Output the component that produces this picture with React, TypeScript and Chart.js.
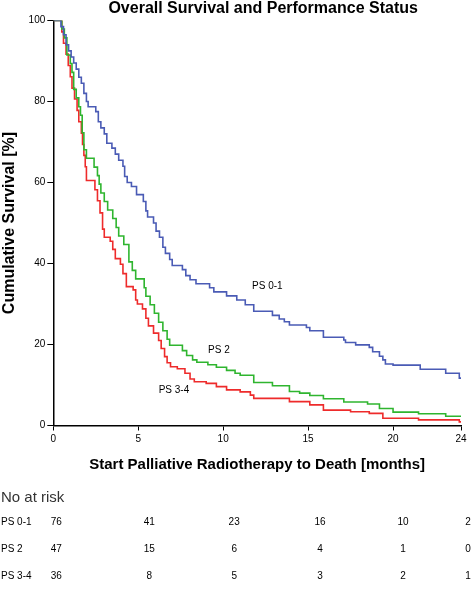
import React, { useEffect, useRef } from "react";
import { Chart, registerables } from "chart.js";
Chart.register(...registerables);

const xTicks = [0, 5, 10, 15, 20, 24];
const yTicks = [0, 20, 40, 60, 80, 100];

const ps01Time = [0, 0.45, 0.6, 0.75, 0.9, 1.05, 1.2, 1.35, 1.5, 1.65, 1.8, 1.95, 2.05, 2.5, 2.65, 2.8, 3.0, 3.15, 3.45, 3.65, 3.85, 4.1, 4.2, 4.35, 4.6, 4.9, 5.3, 5.45, 5.55, 5.9, 6.05, 6.25, 6.45, 6.6, 6.85, 7.0, 7.6, 7.8, 8.05, 8.4, 9.2, 9.45, 10.2, 10.8, 11.3, 11.8, 12.9, 13.3, 13.6, 13.9, 14.9, 15.1, 15.9, 17.1, 17.2, 17.8, 18.6, 18.8, 19.2, 19.4, 19.55, 20.0, 21.6, 23.1, 23.9, 24];
const ps01Surv = [100, 98.5, 96.5, 94, 92.5, 91, 89.5, 88, 86, 84.5, 82, 80, 78.7, 77.5, 75, 73.5, 72, 69.7, 68.5, 67, 65.5, 64, 61.5, 60, 59, 57, 55.3, 53, 51.5, 50, 48, 46.5, 44, 42.5, 41, 39.5, 38.5, 37, 36, 35, 34, 33, 32, 31, 29.8, 28.2, 27.2, 26.3, 25.6, 24.8, 24.2, 23.4, 21.8, 21.1, 20.5, 19.9, 19.3, 18.2, 17.1, 16.2, 15.2, 14.9, 13.9, 12.9, 11.7, 11.7];

const ps2Time = [0, 0.5, 0.65, 0.8, 1.0, 1.1, 1.2, 1.35, 1.5, 1.6, 1.7, 1.8, 1.95, 2.4, 2.6, 2.7, 2.8, 3.0, 3.2, 3.5, 3.7, 3.85, 4.15, 4.45, 4.65, 4.85, 5.35, 5.45, 5.7, 5.95, 6.2, 6.45, 6.7, 6.85, 7.6, 7.85, 8.2, 8.45, 9.1, 9.6, 10.2, 10.7, 11.0, 11.8, 12.9, 13.9, 14.5, 15.1, 15.9, 17.1, 18.5, 19.2, 20.0, 21.5, 23.1, 24];
const ps2Surv = [100, 97.9, 95.7, 91.5, 89.4, 87.2, 83, 80.9, 78.7, 76.6, 72.3, 68.1, 66, 63.8, 61.7, 59.6, 57.4, 55.3, 53.2, 51.1, 48.9, 46.8, 44.7, 40.4, 38.3, 36.2, 34, 31.9, 29.8, 27.7, 25.5, 23.4, 21.3, 19.8, 18.5, 17.3, 16.2, 15.6, 15.0, 14.4, 13.6, 12.9, 12.4, 10.6, 9.8, 8.4, 8.0, 7.4, 6.6, 5.8, 5.3, 4.2, 3.3, 2.9, 2.3, 2.3];

const ps34Time = [0, 0.5, 0.6, 0.75, 0.88, 1.0, 1.1, 1.25, 1.4, 1.5, 1.65, 1.72, 1.8, 1.88, 1.95, 2.45, 2.6, 2.75, 2.9, 3.0, 3.35, 3.5, 3.65, 3.95, 4.1, 4.3, 4.7, 4.85, 4.95, 5.25, 5.45, 5.6, 5.9, 6.2, 6.35, 6.55, 6.7, 6.9, 7.3, 7.75, 8.05, 8.3, 9.0, 9.6, 10.2, 11.0, 11.6, 11.8, 13.9, 15.1, 15.9, 17.5, 18.6, 19.4, 21.5, 23.9, 24];
const ps34Surv = [100, 97.2, 94.4, 91.7, 88.9, 86.1, 83.3, 80.6, 77.8, 75, 72.2, 69.4, 66.7, 63.9, 60.5, 58.2, 55.5, 52.5, 48.5, 46.5, 45.5, 43.5, 41.2, 39.8, 37.5, 34.3, 33.5, 31, 30, 28.8, 26.5, 24.6, 22.8, 21, 19, 17, 15.5, 14.5, 14, 12.9, 11.5, 10.8, 10.4, 9.6, 8.8, 8.3, 7.5, 6.7, 5.9, 5.1, 3.8, 3.4, 3.0, 1.8, 1.4, 0.9, 0.9];

const seriesNames = ["PS 0-1", "PS 2", "PS 3-4"];
const seriesColors = ["#4a5bb5", "#2fb52f", "#ee2b2b"];

const riskTimes = [0, 5, 10, 15, 20, 24];
const riskPS01 = [76, 41, 23, 16, 10, 2];
const riskPS2 = [47, 15, 6, 4, 1, 0];
const riskPS34 = [36, 8, 5, 3, 2, 1];

const labelTimes = [12.6, 9.75, 7.1];
const labelSurv = [34.4, 18.6, 8.7];

const FONT = "'Liberation Sans', Arial, sans-serif";

function toPoints(t: number[], s: number[]) {
  return t.map((x, i) => ({ x, y: s[i] }));
}

const overlay = {
  id: "overlay",
  afterDraw(chart: any) {
    const { ctx, chartArea } = chart;
    const xs = chart.scales.x;
    const ys = chart.scales.y;
    ctx.save();
    ctx.fillStyle = "#000";
    // title
    ctx.font = `bold 16px ${FONT}`;
    ctx.textAlign = "center";
    ctx.textBaseline = "middle";
    ctx.fillText("Overall Survival and Performance Status", (chartArea.left + chartArea.right) / 2 + 6, 9);
    // curve labels
    ctx.font = `10px ${FONT}`;
    seriesNames.forEach((n, i) => {
      ctx.fillText(n, xs.getPixelForValue(labelTimes[i]), ys.getPixelForValue(labelSurv[i]));
    });
    // number at risk table
    ctx.fillStyle = "#333";
    ctx.font = `15px ${FONT}`;
    ctx.textAlign = "left";
    ctx.fillText("No at risk", 1, chartArea.bottom + 72);
    ctx.fillStyle = "#000";
    ctx.font = `10px ${FONT}`;
    const rows = [riskPS01, riskPS2, riskPS34];
    const rowOff = [96.5, 123.5, 151];
    const colOff = [3, 11, 11, 12, 10, 7];
    rows.forEach((r, ri) => {
      const y = chartArea.bottom + rowOff[ri];
      ctx.textAlign = "left";
      ctx.fillText(seriesNames[ri], 1, y);
      ctx.textAlign = "center";
      r.forEach((v, ci) => {
        ctx.fillText(String(v), xs.getPixelForValue(riskTimes[ci]) + colOff[ci], y);
      });
    });
    ctx.restore();
  },
};

export default function App() {
  const ref = useRef<HTMLCanvasElement | null>(null);
  useEffect(() => {
    if (!ref.current) return;
    const series = [
      toPoints(ps01Time, ps01Surv),
      toPoints(ps2Time, ps2Surv),
      toPoints(ps34Time, ps34Surv),
    ];
    const chart = new Chart(ref.current, {
      type: "line",
      data: {
        datasets: series.map((d, i) => ({
          label: seriesNames[i],
          data: d,
          borderColor: seriesColors[i],
          borderWidth: 1.6,
          pointRadius: 0,
          stepped: "before" as const,
          fill: false,
        })),
      },
      options: {
        animation: false,
        responsive: false,
        layout: { padding: { left: 0, top: 20.5, right: 11, bottom: 116 } },
        plugins: { legend: { display: false }, tooltip: { enabled: false }, title: { display: false } },
        scales: {
          x: {
            type: "linear",
            min: 0,
            max: 24,
            afterBuildTicks: (s: any) => {
              s.ticks = xTicks.map((v) => ({ value: v }));
            },
            afterFit: (s: any) => {
              s.height = 48.5;
            },
            grid: { drawOnChartArea: false, drawTicks: true, tickLength: 5, tickColor: "#000", color: "#000" },
            border: { display: true, color: "#000", width: 1.5 },
            ticks: { color: "#000", font: { family: FONT, size: 10 }, padding: 3, maxRotation: 0, autoSkip: false },
            title: {
              display: true,
              text: "Start Palliative Radiotherapy to Death [months]",
              color: "#000",
              font: { family: FONT, size: 15, weight: "bold" },
              padding: { top: 0, bottom: 0 },
            },
          },
          y: {
            type: "linear",
            min: 0,
            max: 100,
            afterBuildTicks: (s: any) => {
              s.ticks = yTicks.map((v) => ({ value: v }));
            },
            afterFit: (s: any) => {
              s.width = 53.3;
            },
            grid: { drawOnChartArea: false, drawTicks: true, tickLength: 6, tickColor: "#000", color: "#000" },
            border: { display: true, color: "#000", width: 1.5 },
            ticks: { color: "#000", font: { family: FONT, size: 10 }, padding: 2 },
            title: {
              display: true,
              text: "Cumulative Survival [%]",
              color: "#000",
              font: { family: FONT, size: 16, weight: "bold" },
              padding: { top: 0, bottom: 0 },
            },
          },
        },
      },
      plugins: [overlay],
    });
    return () => chart.destroy();
  }, []);
  return (
    <div style={{ position: "fixed", left: 0, top: 0, width: 472, height: 590, background: "#fff" }}>
      <canvas ref={ref} width={472} height={590} style={{ display: "block" }} />
    </div>
  );
}
